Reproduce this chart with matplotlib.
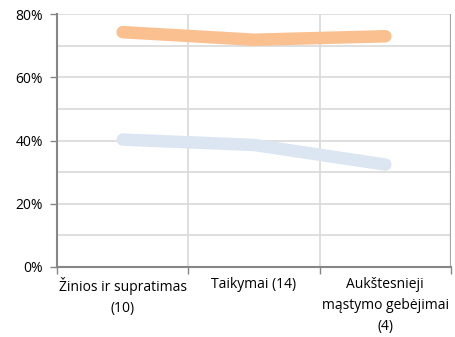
import matplotlib.pyplot as plt
import numpy as np

categories = ['Žinios ir supratimas\n(10)', 'Taikymai (14)', 'Aukštesnieji\nmąstymo gebėjimai\n(4)']
series_orange = [74.3, 71.9, 73.0]
series_blue = [40.3, 38.6, 32.4]
yticks = [0, 20, 40, 60, 80]

plt.rcParams['font.family'] = ['Open Sans', 'DejaVu Sans']

fig = plt.figure(figsize=(4.56, 3.37), dpi=100, facecolor='white')
ax = fig.add_axes([0.125, 0.208, 0.864, 0.750])

x = np.arange(len(categories)) + 0.5
ax.plot(x, series_orange, color='#FAC090', lw=9, solid_capstyle='round', zorder=3)
ax.plot(x, series_blue, color='#DCE6F2', lw=9, solid_capstyle='round', zorder=3)

ax.set_xlim(0, len(categories))
ax.set_ylim(0, 80)

# siatka kas 10%
for v in range(10, 81, 10):
    ax.axhline(v, color='#D9D9D9', lw=1.2, zorder=1)
for v in range(1, len(categories)):
    ax.axvline(v, color='#D9D9D9', lw=1.2, zorder=1)
ax.axvline(len(categories), color='#A6A6A6', lw=1.6, zorder=2)

ax.set_yticks(yticks)
ax.set_yticklabels([f'{v}%' for v in yticks], fontsize=10)
ax.set_xticks(range(len(categories) + 1))
ax.set_xticklabels([])
ax.set_xticks(x, minor=True)
ax.set_xticklabels(categories, minor=True, fontsize=10, linespacing=1.55)
ax.tick_params(axis='x', which='minor', length=0, pad=7)
ax.tick_params(axis='both', which='major', color='#868686', length=5, width=1)
ax.tick_params(axis='y', pad=5)

for s in ['top', 'right']:
    ax.spines[s].set_visible(False)
ax.spines['left'].set_color('#868686')
ax.spines['left'].set_linewidth(1.5)
ax.spines['bottom'].set_color('#868686')
ax.spines['bottom'].set_linewidth(1.5)

fig.savefig('out.png', dpi=100)
